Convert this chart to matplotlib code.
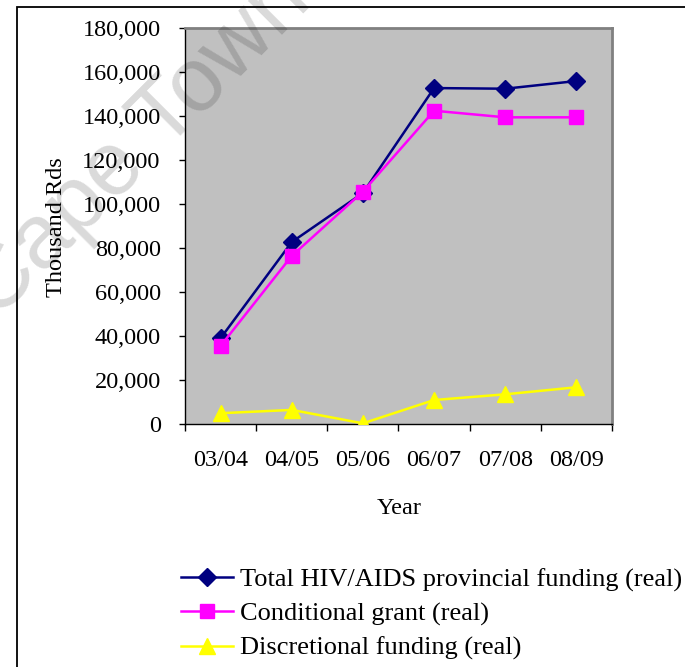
import matplotlib
matplotlib.use("Agg")
import matplotlib.pyplot as plt
from matplotlib.patches import Rectangle

years = ["03/04", "04/05", "05/06", "06/07", "07/08", "08/09"]
total = [39000, 82700, 105000, 152700, 152400, 155900]
conditional = [35500, 76400, 105600, 142400, 139400, 139400]
discretional = [4900, 6400, 300, 10900, 13500, 16700]
yticks = [0, 20000, 40000, 60000, 80000, 100000, 120000, 140000, 160000, 180000]

W, H = 685, 667
DPI = 100
plt.rcParams['font.family'] = ['Liberation Serif', 'DejaVu Serif']
fs = 17.5
lfs = 19

fig = plt.figure(figsize=(W / DPI, H / DPI), dpi=DPI)

def fx(px):
    return px / W

def fy(py):
    return 1 - py / H

# outer frame
fig.patches.append(Rectangle((fx(17), fy(700)), fx(800), fy(7) - fy(700),
                             transform=fig.transFigure, fill=False,
                             edgecolor='black', linewidth=1.3, zorder=0))

ax = fig.add_axes([fx(185), fy(424), fx(612) - fx(185), fy(28) - fy(424)])
ax.set_facecolor('#C0C0C0')
x = list(range(len(years)))

ax.plot(x, total, color='#000080', lw=1.8, marker='D', markersize=9.5,
        label='Total HIV/AIDS provincial funding (real)', zorder=3)
ax.plot(x, conditional, color='#FF00FF', lw=1.8, marker='s', markersize=9.5,
        label='Conditional grant (real)', zorder=4)
ax.plot(x, discretional, color='#FFFF00', lw=1.8, marker='^', markersize=11,
        label='Discretional funding (real)', zorder=3)

ax.set_xlim(-0.5, len(years) - 0.5)
ax.set_ylim(0, 180000)
ax.set_yticks(yticks)
ax.set_yticklabels([f"{v:,}" for v in yticks], fontsize=fs)
ax.tick_params(axis='y', direction='out', length=4.5, width=1, pad=13, colors='black')

ax.set_xticks([i - 0.5 for i in range(len(years) + 1)])
ax.set_xticklabels([])
ax.set_xticks(x, minor=True)
ax.set_xticklabels(years, minor=True, fontsize=fs)
ax.tick_params(axis='x', which='major', direction='out', length=5, width=1)
ax.tick_params(axis='x', which='minor', length=0, pad=19)

for s in ['top', 'right']:
    ax.spines[s].set_color('#808080')
    ax.spines[s].set_linewidth(2)
for s in ['left', 'bottom']:
    ax.spines[s].set_color('black')
    ax.spines[s].set_linewidth(1)

fig.text(fx(56), fy(227), 'Thousand Rds', rotation=90, ha='center', va='center', fontsize=fs)
fig.text(fx(399), fy(508), 'Year', ha='center', va='center', fontsize=fs)

handles, labels = ax.get_legend_handles_labels()
fig.legend(handles, labels, loc='upper left', bbox_to_anchor=(fx(181), fy(568)),
           frameon=False, fontsize=lfs, borderpad=0, borderaxespad=0,
           handlelength=1.97, handletextpad=0.27, labelspacing=0.39)

# watermark
fig.text(fx(-4), fy(322), 'Cape Town', rotation=45, rotation_mode='anchor',
         ha='left', va='baseline', fontsize=65, family='Liberation Sans',
         color='black', alpha=0.15, zorder=10)

fig.savefig('out.png', dpi=DPI)
